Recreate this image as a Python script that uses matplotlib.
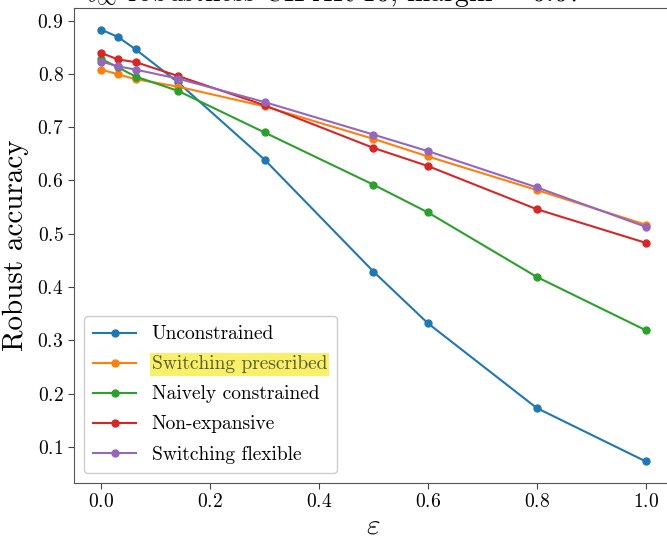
import numpy as np
import matplotlib
matplotlib.use("Agg")
import matplotlib.pyplot as plt

# eps values (0, 8/255, 16/255, 36/255, ...)
eps = [0.0, 0.031, 0.063, 0.141, 0.3, 0.5, 0.6, 0.8, 1.0]

unconstrained = [0.883, 0.869, 0.846, 0.784, 0.639, 0.429, 0.332, 0.173, 0.073]
switching_prescribed = [0.808, 0.799, 0.790, 0.776, 0.739, 0.678, 0.645, 0.582, 0.517]
naively_constrained = [0.828, 0.812, 0.795, 0.768, 0.690, 0.592, 0.540, 0.419, 0.319]
non_expansive = [0.839, 0.827, 0.822, 0.796, 0.741, 0.661, 0.627, 0.546, 0.483]
switching_flexible = [0.823, 0.814, 0.808, 0.791, 0.747, 0.686, 0.655, 0.587, 0.513]

names = [
    "Unconstrained",
    "Switching prescribed",
    "Naively constrained",
    "Non-expansive",
    "Switching flexible",
]
series = [
    unconstrained,
    switching_prescribed,
    naively_constrained,
    non_expansive,
    switching_flexible,
]
colors = ["#1f77b4", "#ff7f0e", "#2ca02c", "#d62728", "#9467bd"]

plt.rcParams["font.family"] = ["cmr10", "DejaVu Serif"]
plt.rcParams["mathtext.fontset"] = "cm"
plt.rcParams["axes.formatter.use_mathtext"] = True

fig = plt.figure(figsize=(6.67, 5.38), dpi=100)
ax = fig.add_axes([74 / 667, 1 - 483 / 538, 599 / 667, 475 / 538])

for name, vals, c in zip(names, series, colors):
    ax.plot(eps, vals, "-o", color=c, markersize=5, linewidth=1.5, label=name)

ax.tick_params(labelsize=14, color="#444444", length=4)
for s in ax.spines.values():
    s.set_color("#555555")
ax.set_xlabel(r"$\varepsilon$", fontsize=21, labelpad=1)
ax.set_ylabel("Robust accuracy", fontsize=21, labelpad=6)

# title is mostly cropped in the reference
fig.text(0.5, 1.012, r"$\ell_\infty$ robustness CIFAR-10, margin = 0.07",
         ha="center", va="center", fontsize=20)

leg = ax.legend(loc="lower left", fontsize=14, framealpha=1.0,
                edgecolor="#cccccc", fancybox=True, handlelength=2.2,
                labelspacing=0.62, borderpad=0.5)
hl = leg.get_texts()[1]
hl.set_bbox(dict(facecolor="#f8f06a", edgecolor="none", pad=1.5))
hl.set_color("#5e5a28")

fig.savefig("out.png", dpi=100)
